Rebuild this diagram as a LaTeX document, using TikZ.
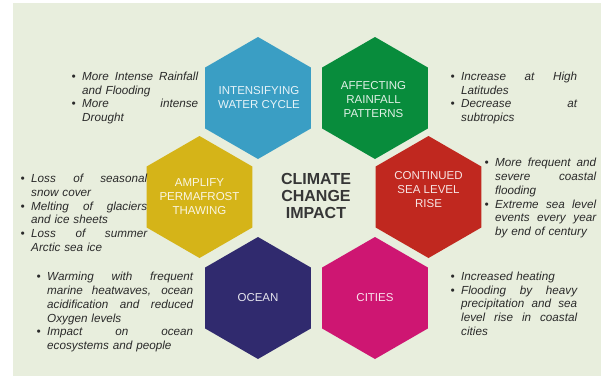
\documentclass[tikz,border=0pt]{standalone}
\usepackage{fontspec}
\setmainfont{Liberation Sans}
\usetikzlibrary{shapes.geometric}

\definecolor{panel}{HTML}{E8EEDD}
\definecolor{hexblue}{HTML}{3A9EC4}
\definecolor{hexgreen}{HTML}{088C3C}
\definecolor{hexyellow}{HTML}{D5B418}
\definecolor{hexred}{HTML}{C0281F}
\definecolor{hexnavy}{HTML}{302A6E}
\definecolor{hexpink}{HTML}{CE1672}
\definecolor{bodyink}{HTML}{2A2A2A}
\definecolor{titleink}{HTML}{363636}

\newlength\colw
% a line stretched to the full column width (justified)
\newcommand\fullline[1]{\makebox[\colw][s]{\spaceskip=0pt\xspaceskip=0pt #1}}
% bullet hanging in the left margin
\newcommand\bul{\leavevmode\llap{\textbullet\hspace{6.5pt}}}

\tikzset{
  hexa/.style={regular polygon, regular polygon sides=6, shape border rotate=30,
    minimum size=122pt, inner sep=0pt, outer sep=0pt, draw=none},
  hexlabel/.style={align=center, inner sep=0pt, text=white, text opacity=0.88,
    font=\fontsize{11.5}{14}\selectfont},
  note/.style={anchor=north west, inner sep=0pt, align=left, text=bodyink,
    font=\fontsize{11.7}{13.8}\selectfont\itshape,
    text width=#1, execute at begin node={\setlength{\colw}{#1}}},
}

\begin{document}
\begin{tikzpicture}[x=1pt,y=-1pt]
  \useasboundingbox (0,0) rectangle (606,376);
  \fill[white] (0,0) rectangle (606,376);
  \fill[panel] (13,3) rectangle (601,376);

  % honeycomb ring
  \node[hexa, fill=hexblue]   (water)  at (258,98)    {};
  \node[hexa, fill=hexgreen]  (rain)   at (375,98)    {};
  \node[hexa, fill=hexyellow] (perma)  at (199.5,197) {};
  \node[hexa, fill=hexred]    (sea)    at (428.5,197) {};
  \node[hexa, fill=hexnavy]   (ocean)  at (258,298)   {};
  \node[hexa, fill=hexpink]   (cities) at (375,298)   {};

  \node[hexlabel] (water-t)  at ([xshift=1pt]water.center)  {INTENSIFYING\\WATER CYCLE};
  \node[hexlabel] (rain-t)   at ([xshift=-1.5pt,yshift=-2pt]rain.center) {AFFECTING\\RAINFALL\\PATTERNS};
  \node[hexlabel] (perma-t)  at (perma.center)  {AMPLIFY\\PERMAFROST\\THAWING};
  \node[hexlabel] (sea-t)    at ([yshift=7.5pt]sea.center) {CONTINUED\\SEA LEVEL\\RISE};
  \node[hexlabel] (ocean-t)  at (ocean.center)  {OCEAN};
  \node[hexlabel] (cities-t) at (cities.center) {CITIES};

  % centre title
  \node[align=center, inner sep=0pt, text=titleink,
        font=\fontsize{16}{16.8}\selectfont\bfseries] (title) at (316,196)
        {CLIMATE\\CHANGE\\IMPACT};

  % notes beside each hexagon
  \node[note=116pt] (water-n) at (82,71.6)
    {\bul\fullline{More Intense Rainfall}\\and Flooding\\
     \bul\fullline{More intense}\\Drought};
  \node[note=116pt] (rain-n) at (461,71.6)
    {\bul\fullline{Increase at High}\\Latitudes\\
     \bul\fullline{Decrease at}\\subtropics};
  \node[note=116pt] (perma-n) at (31,173.9)
    {\bul\fullline{Loss of seasonal}\\snow cover\\
     \bul\fullline{Melting of glaciers}\\and ice sheets\\
     \bul\fullline{Loss of summer}\\Arctic sea ice};
  \node[note=101pt] (sea-n) at (495,158.1)
    {\bul\fullline{More frequent and}\\\fullline{severe coastal}\\flooding\\
     \bul\fullline{Extreme sea level}\\\fullline{events every year}\\by end of century};
  \node[note=146pt] (ocean-n) at (47,272.1)
    {\bul\fullline{Warming with frequent}\\\fullline{marine heatwaves, ocean}\\
     \fullline{acidification and reduced}\\Oxygen levels\\
     \bul\fullline{Impact on ocean}\\ecosystems and people};
  \node[note=116pt] (cities-n) at (461,271.6)
    {\bul Increased heating\\
     \bul\fullline{Flooding by heavy}\\\fullline{precipitation and sea}\\
     \fullline{level rise in coastal}\\cities};
\end{tikzpicture}
\end{document}
